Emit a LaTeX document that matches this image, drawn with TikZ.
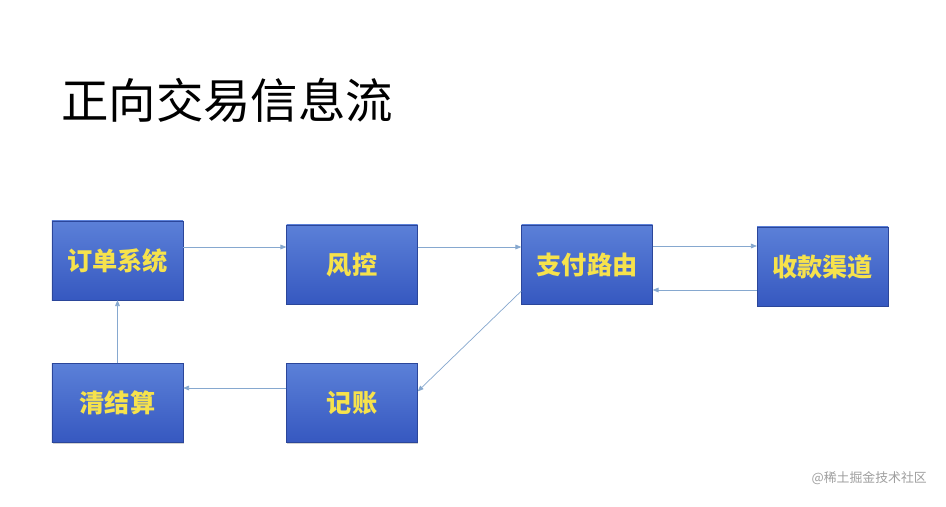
\documentclass[tikz,border=0pt]{standalone}
\usepackage{fontspec}
\newfontfamily\cjk{Noto Sans CJK SC}
\usepackage{xcolor}
\usepackage{tikz}
\usetikzlibrary{arrows.meta, shadows}

\definecolor{boxtop}{HTML}{5B80D8}
\definecolor{boxbot}{HTML}{3658C0}
\definecolor{boxtext}{HTML}{F6E24C}
\definecolor{flowline}{HTML}{86A8CF}

\begin{document}
\begin{tikzpicture}[
  x=0.03cm, y=-0.03cm,
  box/.style={rectangle, minimum width=3.93cm, minimum height=2.37cm,
              top color=boxtop, bottom color=boxbot, draw=boxbot!80!black,
              line width=0.3pt, text=boxtext, font=\cjk\bfseries\fontsize{21.5}{25}\selectfont,
              drop shadow={shadow xshift=0.5pt, shadow yshift=-1pt, opacity=0.35}},
  flow/.style={draw=flowline, line width=0.6pt, -{Triangle[length=5pt, width=4pt]}}
]
\useasboundingbox (0,0) rectangle (946,507);
\fill[white] (0,0) rectangle (946,507);

% title
\node[anchor=west, font=\cjk\fontsize{40.5}{46}\selectfont] (title) at (57,100) {正向交易信息流};

% boxes
\node[box] (order)  at (117.5,260.5) {订单系统};
\node[box] (risk)   at (352,264.5)   {风控};
\node[box] (pay)    at (587,264.5)   {支付路由};
\node[box] (chan)   at (822.5,266.5) {收款渠道};
\node[box] (settle) at (117.5,403)   {清结算};
\node[box] (acct)   at (352,403)     {记账};

% connectors
\draw[flow] ([yshift=0.405cm]order.east) coordinate (o1) -- (o1 -| risk.west);
\draw[flow] ([yshift=0.525cm]risk.east) coordinate (r1) -- (r1 -| pay.west);
\draw[flow] ([yshift=0.555cm]pay.east) coordinate (p1) -- (p1 -| chan.west);
\draw[flow] ([yshift=-0.705cm]chan.west) coordinate (c1) -- (c1 -| pay.east);
\draw[flow] (pay.202) -- (acct.10);
\draw[flow] ([yshift=0.45cm]acct.west) coordinate (a1) -- (a1 -| settle.east);
\draw[flow] (settle.north) -- (order.south);

% watermark
\node[anchor=east, text=gray!75, font=\cjk\fontsize{11}{13}\selectfont] (mark) at (931,478) {@稀土掘金技术社区};
\end{tikzpicture}
\end{document}
